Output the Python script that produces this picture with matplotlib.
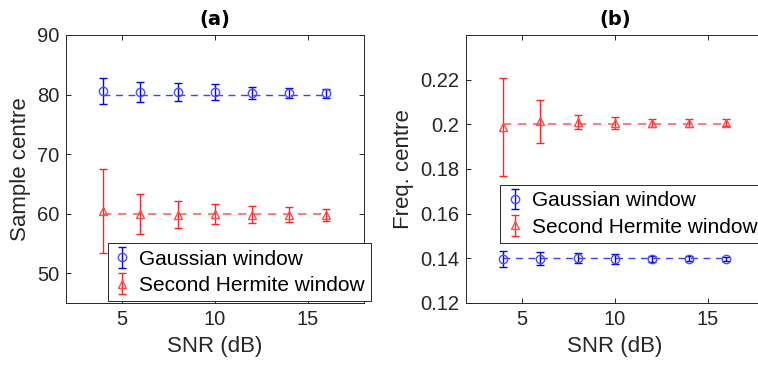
import matplotlib
matplotlib.use("Agg")
import matplotlib.pyplot as plt
import numpy as np

snr = [4, 6, 8, 10, 12, 14, 16]

# (a) sample centre
a_gauss = [80.6, 80.45, 80.4, 80.45, 80.3, 80.25, 80.2]
a_gauss_err = [2.2, 1.65, 1.5, 1.4, 1.0, 0.9, 0.8]
a_herm = [60.5, 59.9, 59.85, 59.95, 59.85, 59.85, 59.8]
a_herm_err = [7.05, 3.35, 2.3, 1.75, 1.45, 1.25, 1.0]
a_true = [80, 60]

# (b) frequency centre
b_gauss = [0.1397, 0.1399, 0.1400, 0.1397, 0.1397, 0.1398, 0.1397]
b_gauss_err = [0.0034, 0.0029, 0.0022, 0.0021, 0.0013, 0.0012, 0.0009]
b_herm = [0.1988, 0.2013, 0.2009, 0.2006, 0.2007, 0.2006, 0.2008]
b_herm_err = [0.022, 0.0095, 0.0031, 0.0025, 0.0018, 0.0019, 0.0016]
b_true = [0.14, 0.20]

labels = ["Gaussian window", "Second Hermite window"]
a_yticks = [50, 60, 70, 80, 90]
b_yticks = [0.12, 0.14, 0.16, 0.18, 0.2, 0.22]
b_yticklabels = ["0.12", "0.14", "0.16", "0.18", "0.2", "0.22"]
xticks = [5, 10, 15]

plt.rcParams['font.family'] = ['Liberation Sans', 'DejaVu Sans']
TXT = '#262626'
W, H = 758, 374
fig = plt.figure(figsize=(W / 100, H / 100), dpi=100)

def ax_rect(x0, x1, y0, y1):
    return [x0 / W, 1 - y1 / H, (x1 - x0) / W, (y1 - y0) / H]

axa = fig.add_axes(ax_rect(66, 363.6, 35, 303))
axb = fig.add_axes(ax_rect(466, 763.6, 35, 303))

blue = (0, 0, 1)
red = (1, 0, 0)

def panel(ax, g, ge, h, he, truth, title, ylabel, ylim, yticks, yticklabels, leg_xy):
    ax.plot([snr[0], snr[-1]], [truth[0], truth[0]], ls=(0, (5, 4)), color=blue, alpha=0.75, lw=1.0)
    ax.plot([snr[0], snr[-1]], [truth[1], truth[1]], ls=(0, (5, 4)), color=red, alpha=0.6, lw=1.2)
    eg = ax.errorbar(snr, g, yerr=ge, fmt='o', color=blue, mfc='none', mec=(0.3, 0.3, 1), ms=6,
                     elinewidth=1.0, capsize=3.2, capthick=1.0, label=labels[0])
    eh = ax.errorbar(snr, h, yerr=he, fmt='^', color=red, mfc='none', mec=(1, 0.3, 0.3), ms=6,
                     elinewidth=1.0, capsize=3.2, capthick=1.0, label=labels[1], ecolor=(1, 0.15, 0.15))
    ax.set_xlim(2, 18)
    ax.set_ylim(*ylim)
    ax.set_xticks(xticks)
    ax.set_yticks(yticks)
    ax.set_yticklabels(yticklabels)
    ax.tick_params(direction='in', top=True, right=True, length=3.5, width=0.7,
                   labelsize=14.5, colors=TXT, pad=5)
    for s in ax.spines.values():
        s.set_color('#262626')
        s.set_linewidth(0.7)
    ax.set_title(title, fontsize=14, fontweight='bold', color='k', pad=7,
                 family=['DejaVu Sans'])
    ax.set_xlabel('SNR (dB)', fontsize=16, color=TXT, labelpad=5)
    ax.set_ylabel(ylabel, fontsize=16, color=TXT, labelpad=4)
    leg = fig.legend(handles=[eg, eh], labels=labels, loc='upper left',
                     bbox_to_anchor=(leg_xy[0] / W, 1 - leg_xy[1] / H),
                     fontsize=15, frameon=True, fancybox=False, framealpha=1,
                     edgecolor='#262626', handlelength=0.8, handletextpad=0.4,
                     borderpad=0.3, labelspacing=0.35, borderaxespad=0)
    leg.get_frame().set_linewidth(0.7)
    for t in leg.get_texts():
        t.set_color('k')
    return leg

panel(axa, a_gauss, a_gauss_err, a_herm, a_herm_err, a_true, '(a)', 'Sample centre',
      (45, 90), a_yticks, [str(v) for v in a_yticks], (107.7, 243.3))
panel(axb, b_gauss, b_gauss_err, b_herm, b_herm_err, b_true, '(b)', 'Freq. centre',
      (0.12, 0.24), b_yticks, b_yticklabels, (500.3, 185))

fig.savefig('out.png', dpi=100)
